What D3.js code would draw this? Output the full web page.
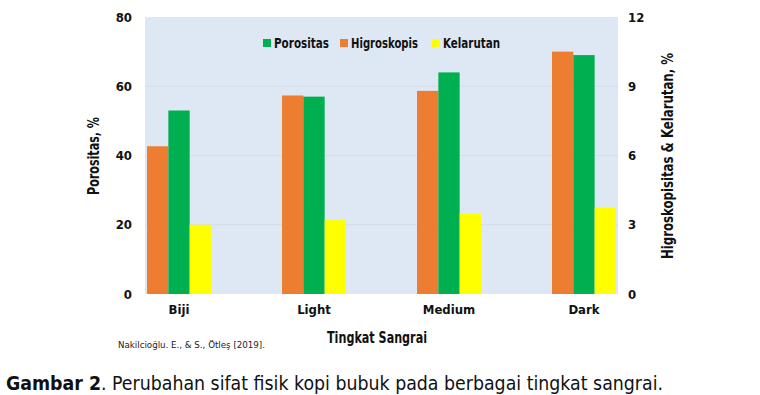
<!DOCTYPE html>
<html>
<head>
<meta charset="utf-8">
<script src="https://cdn.jsdelivr.net/npm/d3@7"></script>
<style>
  body { margin: 0; background: #fff; }
  text { font-family: "DejaVu Sans Condensed", "Liberation Sans", sans-serif; }
</style>
</head>
<body>
<svg id="chart" width="760" height="395"></svg>
<script>
// data
const categories = ['Biji', 'Light', 'Medium', 'Dark'];
const porositas = [53, 57, 64, 69];          // left axis, %
const higroskopis = [6.4, 8.6, 8.8, 10.5];   // right axis, %
const kelarutan = [3.0, 3.2, 3.5, 3.75];     // right axis, %
const leftTicks = [0, 20, 40, 60, 80];
const rightTicks = [0, 3, 6, 9, 12];

const svg = d3.select('#chart');
const m = { left: 145, right: 618, top: 17, bottom: 294 };

const x = d3.scaleBand().domain(categories).range([m.left, m.right])
  .paddingInner(0.526).paddingOuter(0.015);
const yL = d3.scaleLinear().domain([0, 80]).range([m.bottom, m.top]);
const yR = d3.scaleLinear().domain([0, 12]).range([m.bottom, m.top]);

// squeeze text to the narrow look of the original
function fit(sel, len) {
  return sel.attr('textLength', len).attr('lengthAdjust', 'spacingAndGlyphs');
}

// plot background
svg.append('rect')
  .attr('x', m.left).attr('y', m.top)
  .attr('width', m.right - m.left).attr('height', m.bottom - m.top)
  .attr('fill', '#dee8f4');

// faint gridlines
svg.append('g').selectAll('line')
  .data(leftTicks.slice(1, -1))
  .join('line')
  .attr('x1', m.left).attr('x2', m.right)
  .attr('y1', (d) => yL(d)).attr('y2', (d) => yL(d))
  .attr('stroke', '#d2dcea').attr('stroke-width', 1);

// series: orange, green, yellow inside each group
const series = [
  { name: 'Higroskopis', values: higroskopis, scale: yR, color: '#ed7d31' },
  { name: 'Porositas', values: porositas, scale: yL, color: '#00b050' },
  { name: 'Kelarutan', values: kelarutan, scale: yR, color: '#ffff00' },
];
const xs = d3.scaleBand().domain(series.map((s) => s.name)).range([0, x.bandwidth()]);

series.forEach((s) => {
  svg.append('g').selectAll('rect')
    .data(categories)
    .join('rect')
    .attr('x', (d) => x(d) + xs(s.name))
    .attr('width', xs.bandwidth())
    .attr('y', (d, i) => s.scale(s.values[i]))
    .attr('height', (d, i) => m.bottom - s.scale(s.values[i]))
    .attr('fill', s.color);
});

// axes
const axL = svg.append('g').attr('transform', `translate(${m.left},0)`)
  .call(d3.axisLeft(yL).tickValues(leftTicks).tickSize(0).tickPadding(13));
const axR = svg.append('g').attr('transform', `translate(${m.right},0)`)
  .call(d3.axisRight(yR).tickValues(rightTicks).tickSize(0).tickPadding(10));
const axB = svg.append('g').attr('transform', `translate(0,${m.bottom})`)
  .call(d3.axisBottom(x).tickSize(0).tickPadding(11));
[axL, axR, axB].forEach((a) => {
  a.select('.domain').remove();
  a.selectAll('text')
    .attr('font-family', '"DejaVu Sans Condensed", sans-serif')
    .attr('font-size', 13).attr('font-weight', 'bold').attr('fill', '#111');
});

// axis titles
fit(svg.append('text')
  .attr('transform', 'translate(99,156) rotate(-90)')
  .attr('text-anchor', 'middle')
  .attr('font-size', 16).attr('font-weight', 'bold').attr('fill', '#111')
  .text('Porositas, %'), 78);
fit(svg.append('text')
  .attr('transform', 'translate(673,156) rotate(-90)')
  .attr('text-anchor', 'middle')
  .attr('font-size', 16).attr('font-weight', 'bold').attr('fill', '#111')
  .text('Higroskopisitas & Kelarutan, %'), 206);
fit(svg.append('text')
  .attr('x', 377).attr('y', 343)
  .attr('text-anchor', 'middle')
  .attr('font-size', 16).attr('font-weight', 'bold').attr('fill', '#111')
  .text('Tingkat Sangrai'), 100);

// legend
const legend = [
  { name: 'Porositas', color: '#00b050', x: 263, w: 55 },
  { name: 'Higroskopis', color: '#ed7d31', x: 340, w: 67 },
  { name: 'Kelarutan', color: '#ffff00', x: 432, w: 57 },
];
const lg = svg.append('g').selectAll('g').data(legend).join('g')
  .attr('transform', (d) => `translate(${d.x},38)`);
lg.append('rect').attr('width', 8).attr('height', 8).attr('y', 1).attr('fill', (d) => d.color);
lg.append('text').attr('x', 11).attr('y', 10)
  .attr('font-size', 13.5).attr('font-weight', 'bold').attr('fill', '#111')
  .attr('textLength', (d) => d.w).attr('lengthAdjust', 'spacingAndGlyphs')
  .text((d) => d.name);

// source note
fit(svg.append('text')
  .attr('x', 118).attr('y', 348)
  .attr('font-size', 9.5).attr('fill', '#222')
  .text('Nakilcioğlu. E., & S., Ötleş [2019].'), 147);

// caption
const cap = svg.append('text')
  .attr('x', 6).attr('y', 390)
  .attr('font-size', 20).attr('fill', '#111');
cap.append('tspan').attr('font-weight', 'bold').text('Gambar 2');
cap.append('tspan').text('. Perubahan sifat fisik kopi bubuk pada berbagai tingkat sangrai.');
fit(cap, 657);
</script>
</body>
</html>
